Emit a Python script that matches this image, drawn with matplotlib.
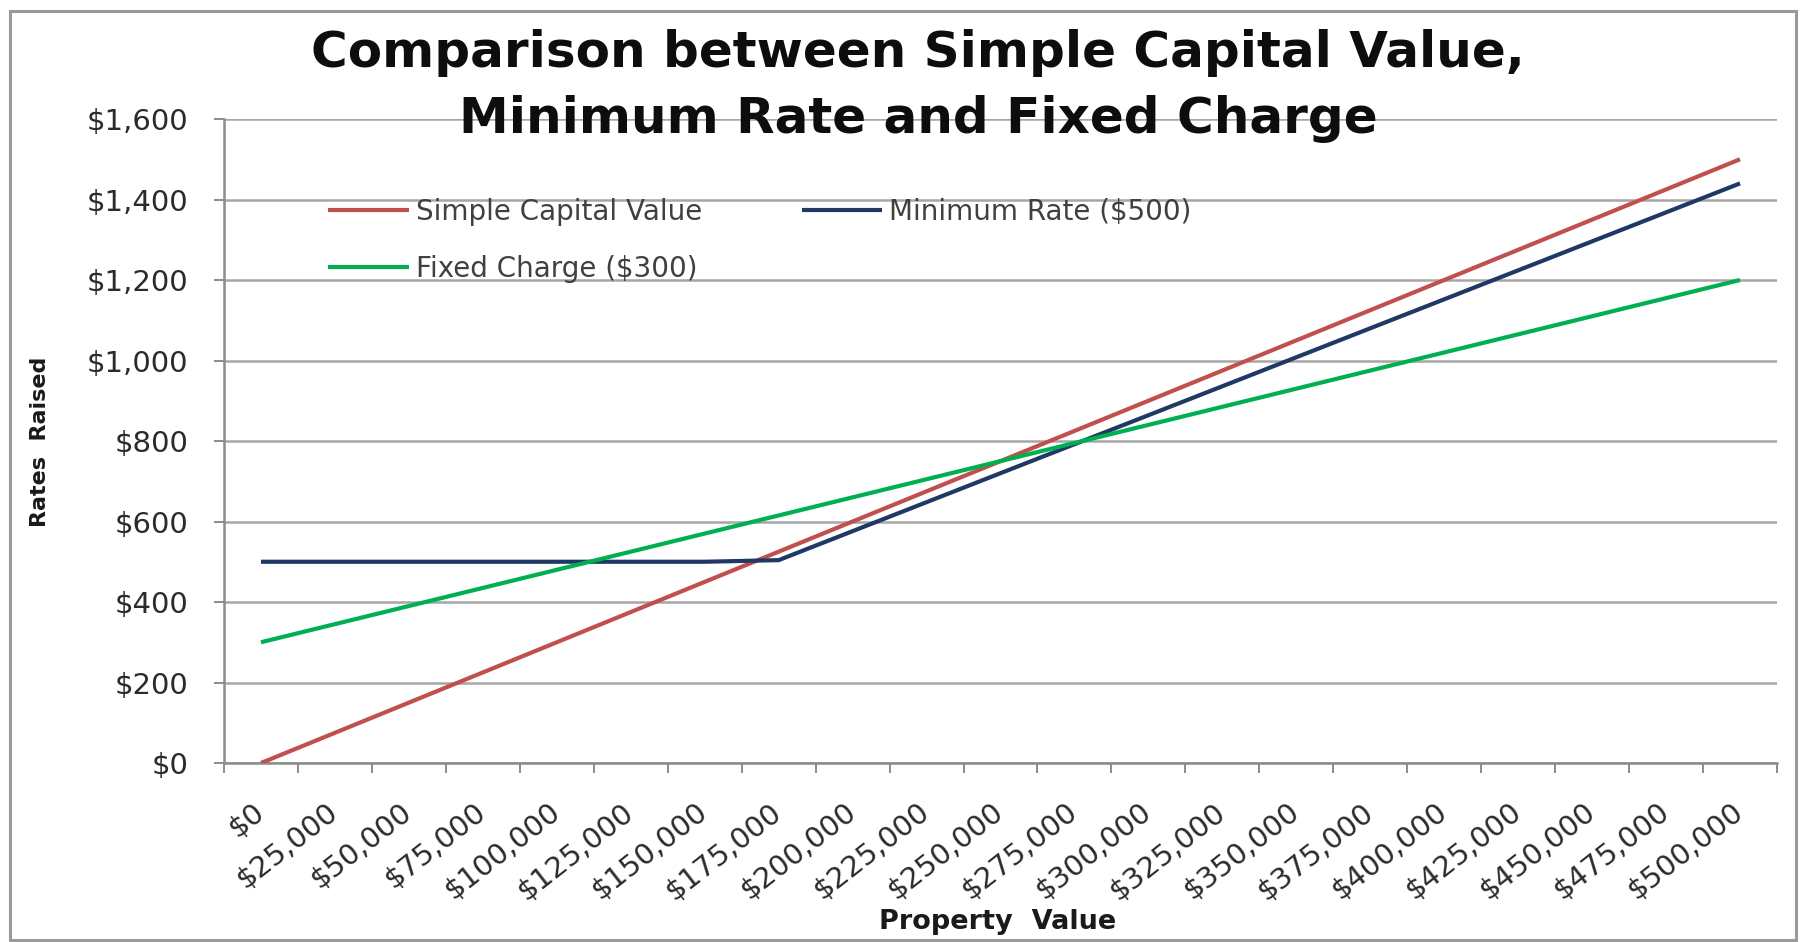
import matplotlib
matplotlib.use("Agg")
import matplotlib.pyplot as plt
from matplotlib.patches import Rectangle
from matplotlib.ticker import FixedLocator, FuncFormatter

# Property values (categories) and rates raised under each scheme
property_values = [0, 25000, 50000, 75000, 100000, 125000, 150000, 175000,
                   200000, 225000, 250000, 275000, 300000, 325000, 350000,
                   375000, 400000, 425000, 450000, 475000, 500000]
simple_capital = [0, 75, 150, 225, 300, 375, 450, 525, 600, 675, 750, 825,
                  900, 975, 1050, 1125, 1200, 1275, 1350, 1425, 1500]
minimum_rate = [500, 500, 500, 500, 500, 500, 500, 504, 576, 648, 720, 792,
                864, 936, 1008, 1080, 1152, 1224, 1296, 1368, 1440]
fixed_charge = [300, 345, 390, 435, 480, 525, 570, 615, 660, 705, 750, 795,
                840, 885, 930, 975, 1020, 1065, 1110, 1155, 1200]
x_labels = [f"${v:,.0f}" for v in property_values]

series_names = ["Simple Capital Value", "Minimum Rate ($500)", "Fixed Charge ($300)"]
series_colors = ["#C0504D", "#1F3864", "#00B050"]

plt.rcParams["font.family"] = ["DejaVu Sans"]

W, H = 1800, 942
fig = plt.figure(figsize=(W / 100, H / 100), dpi=100)
fig.patch.set_facecolor("white")

ax = fig.add_axes([224 / W, 1 - 763 / H, (1777 - 224) / W, (763 - 119) / H])
xs = list(range(len(property_values)))

lines = []
for vals, name, col in zip([simple_capital, minimum_rate, fixed_charge],
                           series_names, series_colors):
    ln, = ax.plot(xs, vals, color=col, lw=3.0, label=name,
                  solid_capstyle="butt", zorder=3)
    lines.append(ln)

ax.set_xlim(-0.5, len(xs) - 0.5)
ax.set_ylim(0, 1600)
ax.yaxis.set_major_locator(FixedLocator(range(0, 1601, 200)))
ax.yaxis.set_major_formatter(FuncFormatter(lambda v, p: f"${v:,.0f}"))
ax.grid(axis="y", color="#A6A6A6", lw=1.8, zorder=0)
ax.set_axisbelow(True)

# category labels centred between tick marks
ax.set_xticks(xs)
ax.set_xticklabels(x_labels)
ax.set_xticks([i - 0.5 for i in range(len(xs) + 1)], minor=True)
ax.tick_params(axis="x", which="major", length=0, pad=33)
ax.tick_params(axis="x", which="minor", length=7.5, width=1.4, color="#8C8C8C")
ax.tick_params(axis="y", length=7.5, width=1.4, color="#8C8C8C", pad=18,
               labelsize=21, labelcolor="#2B2B2B")
for lab in ax.get_xticklabels():
    lab.set_rotation(38)
    lab.set_rotation_mode("anchor")
    lab.set_ha("right")
    lab.set_va("center")
    lab.set_fontsize(21)
    lab.set_color("#2B2B2B")

for s in ["top", "right"]:
    ax.spines[s].set_visible(False)
for s in ["left", "bottom"]:
    ax.spines[s].set_color("#8C8C8C")
    ax.spines[s].set_linewidth(1.8)

fig.text(40 / W, 1 - 442 / H, "Rates  Raised", rotation=90, ha="center",
         va="center", fontsize=16, fontweight="bold", color="#1A1A1A")
fig.text(998 / W, 1 - 922 / H, "Property  Value", ha="center", va="center",
         fontsize=19.5, fontweight="bold", color="#1A1A1A")

# two-line chart title
fig.text(918 / W, 1 - 67 / H, "Comparison between Simple Capital Value,",
         ha="center", va="baseline", fontsize=36, fontweight="bold",
         color="#0D0D0D")
fig.text(918 / W, 1 - 133 / H, "Minimum Rate and Fixed Charge",
         ha="center", va="baseline", fontsize=36, fontweight="bold",
         color="#0D0D0D")

# legend filled row by row: Simple | Minimum, then Fixed
leg = ax.legend([lines[0], lines[2], lines[1]],
                [series_names[0], series_names[2], series_names[1]],
                ncol=2, frameon=False, loc="upper left",
                bbox_to_anchor=(328 / W, 1 - 198 / H),
                bbox_transform=fig.transFigure, borderaxespad=0, borderpad=0,
                handlelength=2.9, handletextpad=0.25, columnspacing=3.6,
                labelspacing=1.03, fontsize=20)
for t in leg.get_texts():
    t.set_color("#404040")

fig.patches.append(Rectangle((10 / W, 1 - 940 / H), (1796 - 10) / W, (940 - 11) / H,
                             transform=fig.transFigure, fill=False,
                             edgecolor="#9A9A9A", lw=2.2))

fig.savefig("out.png", dpi=100, facecolor="white")
